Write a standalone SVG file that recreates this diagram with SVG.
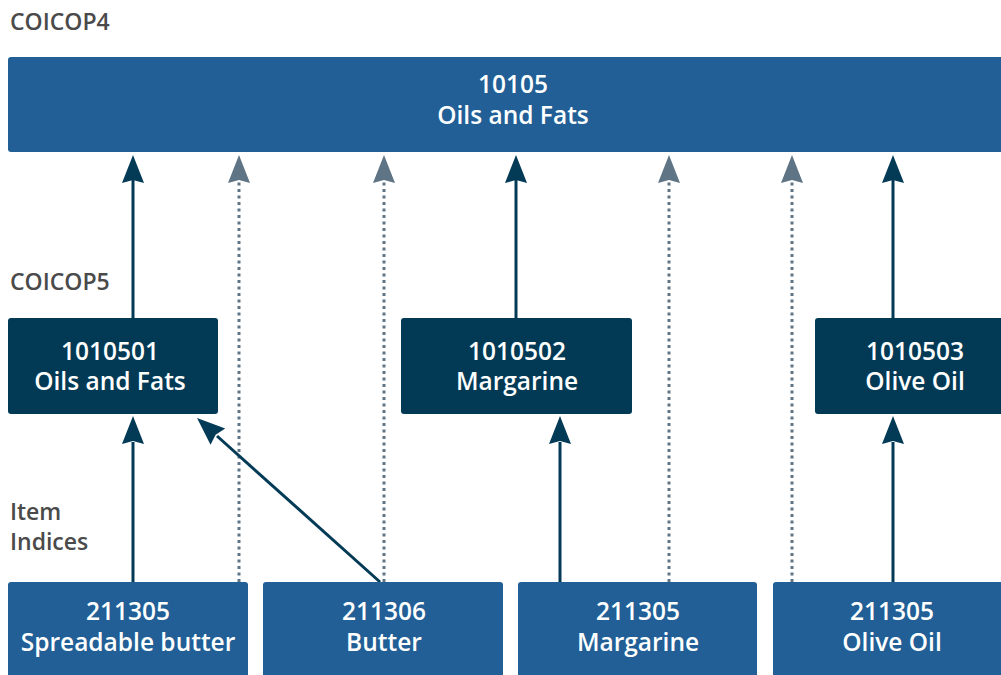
<svg xmlns="http://www.w3.org/2000/svg" width="1001" height="675" viewBox="0 0 1001 675">
<style>
.lvl{font-family:"Open Sans","Liberation Sans",sans-serif;font-weight:600;font-size:23px;fill:#4a4a4a}
.t{font-family:"Open Sans","Liberation Sans",sans-serif;font-weight:600;font-size:24.5px;fill:#fff;text-anchor:middle}
.b1{fill:#215f96}
.b2{fill:#023a56}
.solid{stroke:#033a56;stroke-width:3;fill:none}
.dot{stroke:#5f7585;stroke-width:3;stroke-dasharray:3 3.5;fill:none}
.hd{fill:#033a56}
.hg{fill:#5f7585}
</style>
<text class="lvl" x="10" y="30">COICOP4</text>
<text class="lvl" x="10" y="290">COICOP5</text>
<text class="lvl" x="10" y="520">Item</text>
<text class="lvl" x="10" y="550">Indices</text>

<g id="connectors">
<line class="solid" x1="133" y1="318" x2="133" y2="180"/>
<line class="solid" x1="516" y1="318" x2="516" y2="180"/>
<line class="solid" x1="893" y1="318" x2="893" y2="180"/>
<line class="dot" x1="239" y1="582" x2="239" y2="180"/>
<line class="dot" x1="384" y1="582" x2="384" y2="180"/>
<line class="dot" x1="669" y1="582" x2="669" y2="180"/>
<line class="dot" x1="792" y1="582" x2="792" y2="180"/>
<line class="solid" x1="133" y1="582" x2="133" y2="442"/>
<line class="solid" x1="560" y1="582" x2="560" y2="442"/>
<line class="solid" x1="893" y1="582" x2="893" y2="442"/>
<line class="solid" x1="380" y1="582" x2="217" y2="436"/>
<path class="hd" d="M133,155 L144,183 L133,180 L122,183 Z"/>
<path class="hd" d="M516,155 L527,183 L516,180 L505,183 Z"/>
<path class="hd" d="M893,155 L904,183 L893,180 L882,183 Z"/>
<path class="hg" d="M239,155 L250,183 L239,180 L228,183 Z"/>
<path class="hg" d="M384,155 L395,183 L384,180 L373,183 Z"/>
<path class="hg" d="M669,155 L680,183 L669,180 L658,183 Z"/>
<path class="hg" d="M792,155 L803,183 L792,180 L781,183 Z"/>
<path class="hd" d="M133,416 L144,444 L133,441 L122,444 Z"/>
<path class="hd" d="M560,416 L571,444 L560,441 L549,444 Z"/>
<path class="hd" d="M893,416 L904,444 L893,441 L882,444 Z"/>
<path class="hd" d="M0,0 L11,28 L0,25 L-11,28 Z" transform="translate(197,418) rotate(-48.2)"/>
</g>

<g id="n10105">
<rect class="b1" x="8" y="57" width="1010" height="95" rx="3"/>
<text class="t" x="513" y="93">10105</text>
<text class="t" x="513" y="124">Oils and Fats</text>
</g>
<g id="n1010501">
<rect class="b2" x="8" y="318" width="210" height="96" rx="3"/>
<text class="t" x="110" y="360">1010501</text>
<text class="t" x="110" y="390">Oils and Fats</text>
</g>
<g id="n1010502">
<rect class="b2" x="401" y="318" width="231" height="96" rx="3"/>
<text class="t" x="517" y="360">1010502</text>
<text class="t" x="517" y="390">Margarine</text>
</g>
<g id="n1010503">
<rect class="b2" x="815" y="318" width="200" height="96" rx="3"/>
<text class="t" x="915" y="360">1010503</text>
<text class="t" x="915" y="390">Olive Oil</text>
</g>
<g id="i1">
<rect class="b1" x="8" y="582" width="240" height="100" rx="3"/>
<text class="t" x="128" y="620">211305</text>
<text class="t" x="128" y="651">Spreadable butter</text>
</g>
<g id="i2">
<rect class="b1" x="263" y="582" width="240" height="100" rx="3"/>
<text class="t" x="384" y="620">211306</text>
<text class="t" x="384" y="651">Butter</text>
</g>
<g id="i3">
<rect class="b1" x="518" y="582" width="239" height="100" rx="3"/>
<text class="t" x="638" y="620">211305</text>
<text class="t" x="638" y="651">Margarine</text>
</g>
<g id="i4">
<rect class="b1" x="773" y="582" width="240" height="100" rx="3"/>
<text class="t" x="892" y="620">211305</text>
<text class="t" x="892" y="651">Olive Oil</text>
</g>
</svg>
